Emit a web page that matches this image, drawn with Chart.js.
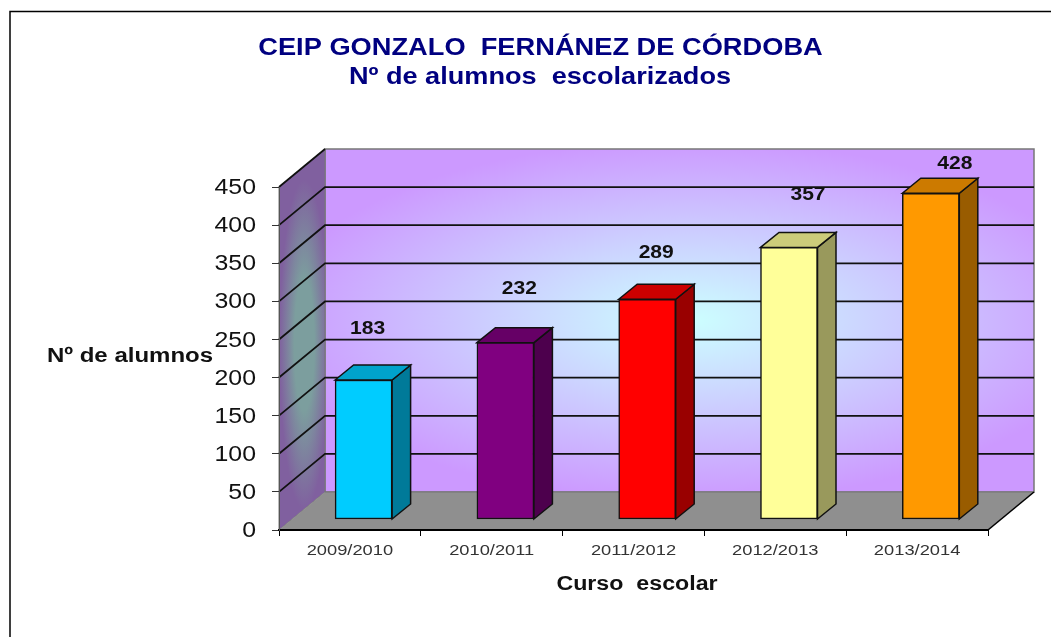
<!DOCTYPE html>
<html>
<head>
<meta charset="utf-8">
<title>CEIP Gonzalo Fernández de Córdoba</title>
<script src="https://cdn.jsdelivr.net/npm/chart.js@4/dist/chart.umd.min.js"></script>
<style>
    html, body { margin: 0; padding: 0; background: #fff; overflow: hidden; }
    canvas { display: block; }
</style>
</head>
<body>
<canvas id="myChart" width="1051" height="637"></canvas>
<script>
var courses = ['2009/2010', '2010/2011', '2011/2012', '2012/2013', '2013/2014'];
var students = [183, 232, 289, 357, 428];
var barColors = ['#00CCFF', '#800080', '#FF0000', '#FFFF99', '#FF9900'];
var titleLines = ['CEIP GONZALO  FERNÁNEZ DE CÓRDOBA', 'Nº de alumnos  escolarizados'];
var yTitle = 'Nº de alumnos';
var xTitle = 'Curso  escolar';

// depth of the fake 3D box and of the bars, in pixels
var WALL_DX = 46, WALL_DY = 38;
var BAR_DX = 13.7, BAR_DY = 10.5;
var SIDE_DX = 18.5, SIDE_DY = 15;
var LINE = '#111';
var FONT = '"Liberation Sans", Arial, sans-serif';

// where the value labels sit, relative to the top centre of each bar
var labelShift = [[4, -51], [14, -54], [9, -47], [19, -53], [24, -30]];

function shade(hex, f) {
    var n = parseInt(hex.slice(1), 16);
    var r = Math.round((n >> 16 & 255) * f);
    var g = Math.round((n >> 8 & 255) * f);
    var b = Math.round((n & 255) * f);
    return 'rgb(' + r + ',' + g + ',' + b + ')';
}

function poly(ctx, pts, fill, stroke, width) {
    ctx.beginPath();
    ctx.moveTo(pts[0][0], pts[0][1]);
    for (var i = 1; i < pts.length; i++) {
        ctx.lineTo(pts[i][0], pts[i][1]);
    }
    ctx.closePath();
    if (fill) {
        ctx.fillStyle = fill;
        ctx.fill();
    }
    if (stroke) {
        ctx.strokeStyle = stroke;
        ctx.lineWidth = width;
        ctx.stroke();
    }
}

// the original text is stretched sideways, so x is anchored and scaled
function text(ctx, str, x, y, font, color, stretch, align) {
    ctx.save();
    ctx.font = font;
    ctx.fillStyle = color;
    ctx.textAlign = align || 'center';
    ctx.textBaseline = 'middle';
    ctx.translate(x, y);
    ctx.scale(stretch, 1);
    ctx.fillText(str, 0, 0);
    ctx.restore();
}

/**
 * Walls, floor and grid of the box, drawn behind the axes
 */
var box3d = {
    id: 'box3d',
    beforeDraw: function (chart) {
        var ctx = chart.ctx, a = chart.chartArea, y = chart.scales.y;
        var backL = a.left + WALL_DX, backR = a.right + WALL_DX;
        var backT = a.top - WALL_DY, backB = a.bottom - WALL_DY;
        var cx = 690, cy = (backT + backB) / 2;

        ctx.save();
        ctx.fillStyle = '#fff';
        ctx.fillRect(0, 0, chart.width, chart.height);

        // page frame
        ctx.strokeStyle = '#000';
        ctx.lineWidth = 1.5;
        ctx.beginPath();
        ctx.moveTo(10, chart.height);
        ctx.lineTo(10, 11.5);
        ctx.lineTo(chart.width, 11.5);
        ctx.stroke();

        // back wall
        ctx.save();
        ctx.beginPath();
        ctx.rect(backL, backT, backR - backL, backB - backT);
        ctx.clip();
        ctx.translate(cx, cy);
        ctx.scale(420, 180);
        var back = ctx.createRadialGradient(0, 0, 0, 0, 0, 1);
        back.addColorStop(0, '#CCFFFF');
        back.addColorStop(0.5, '#CCCCFF');
        back.addColorStop(1, '#CC99FF');
        ctx.fillStyle = back;
        ctx.fillRect(-5, -5, 10, 10);
        ctx.restore();
        poly(ctx, [[backL, backT], [backR, backT], [backR, backB], [backL, backB]], null, '#777', 1.5);

        // left wall
        ctx.save();
        poly(ctx, [[a.left, a.top], [backL, backT], [backL, backB], [a.left, a.bottom]]);
        ctx.clip();
        ctx.translate(a.left + WALL_DX * 0.55, (a.top + backB) / 2 + 5);
        ctx.scale(25, 165);
        var side = ctx.createRadialGradient(0, 0, 0, 0, 0, 1);
        side.addColorStop(0, '#7C9E9E');
        side.addColorStop(0.4, '#7C9E9E');
        side.addColorStop(1, '#80609F');
        ctx.fillStyle = side;
        ctx.fillRect(-5, -5, 10, 10);
        ctx.restore();
        poly(ctx, [[a.left, a.top], [backL, backT], [backL, backB], [a.left, a.bottom]], null, '#777', 1);

        // floor
        poly(ctx, [[a.left, a.bottom], [backL, backB], [backR, backB], [a.right, a.bottom]], '#8F8F8F');
        ctx.strokeStyle = '#777';
        ctx.lineWidth = 1;
        ctx.beginPath();
        ctx.moveTo(backL, backB);
        ctx.lineTo(backR, backB);
        ctx.stroke();
        ctx.strokeStyle = '#000';
        ctx.lineWidth = 1.6;
        ctx.beginPath();
        ctx.moveTo(a.right, a.bottom);
        ctx.lineTo(backR, backB);
        ctx.stroke();

        // grid lines run along the left wall and then across the back
        ctx.strokeStyle = LINE;
        ctx.lineWidth = 1.8;
        y.ticks.forEach(function (t) {
            if (t.value === 0) {
                return;
            }
            var py = y.getPixelForValue(t.value);
            ctx.beginPath();
            ctx.moveTo(a.left, py);
            ctx.lineTo(backL, py - WALL_DY);
            if (t.value < 450) {
                ctx.lineTo(backR, py - WALL_DY);
            }
            ctx.stroke();
        });
        ctx.restore();
    },

    /**
     * Bars are pushed into the box, side and top faces come first
     */
    beforeDatasetsDraw: function (chart) {
        var ctx = chart.ctx;
        ctx.save();
        ctx.translate(BAR_DX, -BAR_DY);
        chart.getDatasetMeta(0).data.forEach(function (bar, i) {
            var w = bar.width / 2, l = bar.x - w, r = bar.x + w;
            var color = barColors[i];
            poly(ctx, [[r, bar.y], [r + SIDE_DX, bar.y - SIDE_DY], [r + SIDE_DX, bar.base - SIDE_DY], [r, bar.base]], shade(color, 0.6), LINE, 1.5);
            poly(ctx, [[l, bar.y], [l + SIDE_DX, bar.y - SIDE_DY], [r + SIDE_DX, bar.y - SIDE_DY], [r, bar.y]], shade(color, 0.8), LINE, 1.5);
        });
    },

    afterDatasetsDraw: function (chart) {
        var ctx = chart.ctx;
        ctx.restore();
        chart.getDatasetMeta(0).data.forEach(function (bar, i) {
            text(ctx, String(students[i]), bar.x + BAR_DX + labelShift[i][0], bar.y - BAR_DY + labelShift[i][1] + 0.5, 'bold 18px ' + FONT, '#111', 1.17);
        });
    },

    afterDraw: function (chart) {
        var ctx = chart.ctx, xs = chart.scales.x, ys = chart.scales.y;

        // tick labels come from the scales, only stretched when drawn
        ys.ticks.forEach(function (t) {
            text(ctx, String(t.value), 256, ys.getPixelForValue(t.value) + 1, '22px ' + FONT, '#111', 1.13, 'right');
        });
        xs.ticks.forEach(function (t, i) {
            text(ctx, xs.getLabelForValue(t.value), xs.getPixelForTick(i), 550.5, '15px ' + FONT, '#333', 1.22);
        });

        text(ctx, titleLines[0], 540.5, 48, 'bold 24px ' + FONT, '#000080', 1.135);
        text(ctx, titleLines[1], 540, 77.5, 'bold 24px ' + FONT, '#000080', 1.13);
        text(ctx, yTitle, 130, 356, 'bold 20px ' + FONT, '#111', 1.2);
        text(ctx, xTitle, 637, 584, 'bold 20px ' + FONT, '#111', 1.16);
    }
};

var ctx = document.getElementById('myChart').getContext('2d');
var chart = new Chart(ctx, {
    type: 'bar',
    data: {
        labels: courses,
        datasets: [{
            data: students,
            backgroundColor: barColors,
            borderColor: LINE,
            borderWidth: 1.5,
            borderSkipped: false,
            barThickness: 57,
            clip: false
        }]
    },
    options: {
        responsive: false,
        animation: false,
        layout: { padding: { top: 187, right: 63, left: 0, bottom: 0 } },
        plugins: {
            legend: { display: false },
            tooltip: { enabled: false }
        },
        scales: {
            x: {
                afterFit: function (scale) { scale.height = 107; },
                grid: { drawOnChartArea: false, tickLength: 6, color: '#000', offset: true },
                border: { color: '#000', width: 2 },
                ticks: { display: false, maxRotation: 0 }
            },
            y: {
                min: 0,
                max: 450,
                afterFit: function (scale) { scale.width = 279; },
                grid: { drawOnChartArea: false, tickLength: 7, color: '#333' },
                border: { color: '#555', width: 1 },
                ticks: { display: false, stepSize: 50 }
            }
        }
    },
    plugins: [box3d]
});
</script>
</body>
</html>
